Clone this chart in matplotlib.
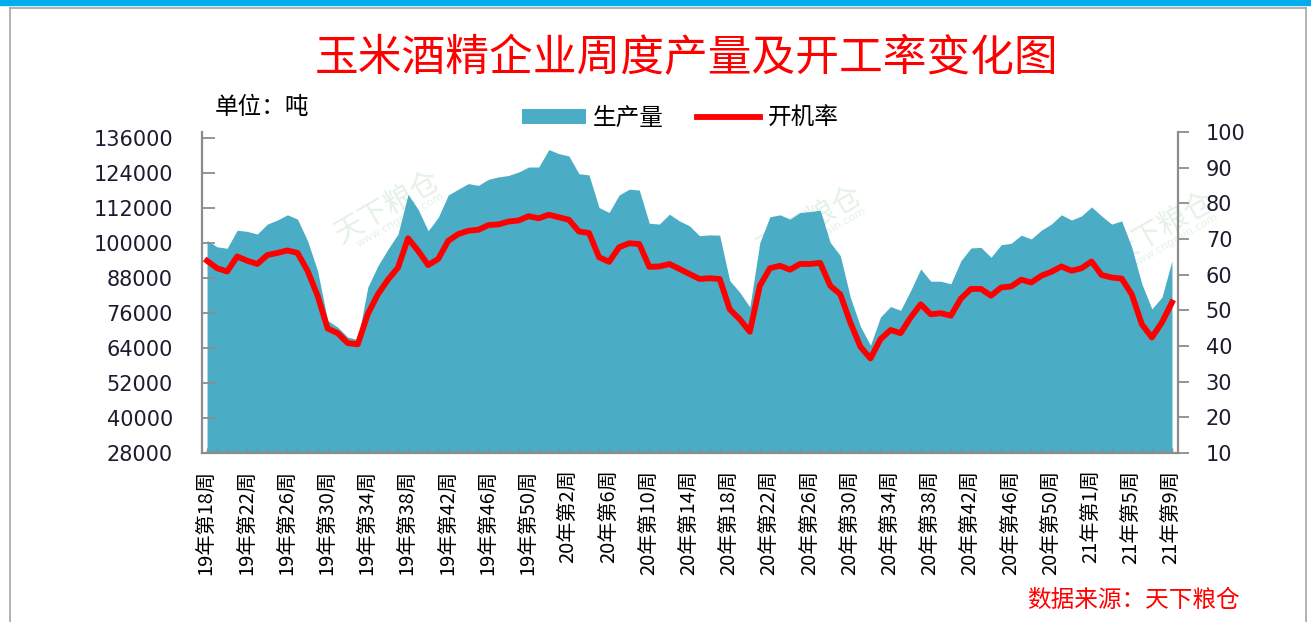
import matplotlib
matplotlib.use('Agg')
import matplotlib.pyplot as plt
from matplotlib.patches import Rectangle, Patch
from matplotlib.lines import Line2D
import numpy as np

plt.rcParams['font.family'] = ['DejaVu Sans']
CJK = ['Noto Sans CJK SC', 'DejaVu Sans']

# categories: 19年第18周 ... 21年第9周
WEEK_LABELS = ([f'19年第{w}周' for w in range(18, 53)]
               + [f'20年第{w}周' for w in range(1, 54)]
               + [f'21年第{w}周' for w in range(1, 10)])

# 生产量 (吨)
PRODUCTION = [101000, 98800, 98300, 104500, 104100, 103200, 106600, 108000, 109800, 108300,
              100900, 90600, 73500, 71200, 67800, 66900,
              85000, 92300, 98000, 103200, 116800, 111700, 104300, 108900, 116600, 118600,
              120500, 119900, 122000, 122800, 123300, 124500, 126200,
              126200, 132200, 130800, 130000, 123900, 123500, 112300, 110600, 116600, 118600,
              118300, 106900, 106600, 110000, 107700, 106000,
              102600, 102900, 102800, 87200, 83200, 78100, 100300, 109100, 109800, 108300,
              110600, 110900, 111400, 100300, 95800, 81500, 71500,
              65000, 74700, 78300, 77000, 83800, 91200, 87000, 87000, 86100, 94000, 98400,
              98600, 95200, 99500, 100000, 102800,
              101500, 104500, 106600, 109800, 108000, 109400, 112500, 109400, 106600, 107700,
              98600, 86100, 77500, 81500, 94000]

# 开机率 (%)
RATE = [63.9, 61.8, 60.9, 65.1, 63.9, 63.0, 65.5, 66.1, 66.8, 66.1,
        61.1, 54.1, 44.9, 43.6, 40.8, 40.5,
        49.0, 54.5, 58.6, 62.0, 70.2, 66.7, 62.7, 64.4, 69.5, 71.4, 72.3, 72.6, 73.9, 74.1,
        74.9, 75.2, 76.4,
        75.8, 76.8, 76.1, 75.4, 72.1, 71.7, 64.9, 63.6, 67.7, 68.8, 68.6, 62.2, 62.3, 63.0,
        61.6, 60.2,
        58.8, 59.0, 58.8, 50.3, 47.5, 44.0, 56.9, 61.8, 62.5, 61.4, 63.0, 63.0, 63.3, 56.9,
        54.5, 46.6, 39.8,
        36.5, 41.9, 44.5, 43.6, 48.0, 51.7, 48.9, 49.2, 48.5, 53.3, 56.0, 56.0, 54.1, 56.4,
        56.7, 58.6,
        57.8, 59.7, 60.8, 62.3, 61.1, 61.8, 63.7, 59.9, 59.2, 58.9, 54.5, 46.1, 42.4, 46.6, 52.2]

LEFT_TICKS = list(range(28000, 136001, 12000))
RIGHT_TICKS = list(range(10, 101, 10))

AREA_COLOR = '#4BACC6'
LINE_COLOR = '#FF0000'
AXIS_GRAY = '#8C8C8C'
TEXT_DARK = '#1C1C30'
WATERMARK = '#E4F2E6'

W, H = 1311, 622
fig = plt.figure(figsize=(W / 100, H / 100), dpi=100)
fig.patch.set_facecolor('white')

# outer frame: blue top bar and thin gray border
fig.patches.append(Rectangle((0, 1 - 5 / H), 1, 5 / H, transform=fig.transFigure,
                             color='#00AEEF', zorder=0))
for xs, ys in [([10 / W, 10 / W], [0, 1 - 8 / H]),
               ([10 / W, 1306 / W], [1 - 8 / H, 1 - 8 / H]),
               ([1306 / W, 1306 / W], [0, 1 - 8 / H])]:
    fig.lines.append(Line2D(xs, ys, transform=fig.transFigure, color='#A6A6A6', lw=1.2))

left, right, top, bottom = 202 / W, 1178 / W, 1 - 132 / H, 1 - 453 / H
ax = fig.add_axes([left, bottom, right - left, top - bottom])
ax2 = ax.twinx()

x = np.arange(len(PRODUCTION))

# watermark (behind the area)
for wx, wy in [(18, 112000), (60, 107000), (95, 105000)]:
    ax.text(wx, wy, '天下粮仓', family=CJK, fontsize=21, color=WATERMARK, rotation=30,
            ha='center', va='center', zorder=0.5)
    ax.text(wx + 1.2, wy - 4000, 'www.cngrain.com', fontsize=8, color=WATERMARK,
            rotation=30, ha='center', va='center', zorder=0.5)

ax.fill_between(x, 28000, PRODUCTION, color=AREA_COLOR, lw=0, zorder=1)
ax2.plot(x, RATE, color=LINE_COLOR, lw=4.2, solid_joinstyle='round', zorder=3)

ax.set_xlim(-0.5, 96.6)
ax.set_ylim(28000, 138230)
ax2.set_ylim(10, 100)

for s in ['top', 'right']:
    ax.spines[s].set_visible(False)
for s in ['left', 'bottom']:
    ax.spines[s].set_color(AXIS_GRAY)
    ax.spines[s].set_linewidth(1.6)
for s in ['top', 'left', 'bottom']:
    ax2.spines[s].set_visible(False)
ax2.spines['right'].set_color(AXIS_GRAY)
ax2.spines['right'].set_linewidth(1.6)

ax.set_yticks(LEFT_TICKS)
ax.set_yticklabels([str(v) for v in LEFT_TICKS], fontsize=15, color=TEXT_DARK)
ax.tick_params(axis='y', direction='in', length=9, width=1.3, color=AXIS_GRAY, pad=21)

ax2.set_yticks(RIGHT_TICKS)
ax2.set_yticklabels([str(v) for v in RIGHT_TICKS], fontsize=15, color=TEXT_DARK)
ax2.tick_params(axis='y', direction='out', length=8, width=1.3, color=AXIS_GRAY, pad=12)

major = x[::4]
ax.set_xticks(major)
ax.set_xticklabels([WEEK_LABELS[i] for i in major], rotation=90, family=CJK,
                   fontsize=14.5, color='black', va='top', ha='center')
ax.set_xticks(x, minor=True)
ax.tick_params(axis='x', which='both', direction='in', length=3.5, width=1,
               color=AXIS_GRAY, pad=12)

# title and annotations
fig.text(687 / W, 1 - 58 / H, '玉米酒精企业周度产量及开工率变化图', family=CJK,
         fontsize=31.5, color='#FF0000', ha='center', va='center')
fig.text(215 / W, 1 - 107 / H, '单位：吨', family=CJK, fontsize=17, color='black',
         ha='left', va='center')
fig.text(1240 / W, 1 - 600 / H, '数据来源：天下粮仓', family=CJK, fontsize=17,
         color='#FF0000', style='italic', ha='right', va='center')

handles = [Patch(facecolor=AREA_COLOR, edgecolor='none', label='生产量'),
           Line2D([], [], color=LINE_COLOR, lw=4.2, label='开机率')]
fig.legend(handles=handles, loc='center', bbox_to_anchor=(680 / W, 1 - 118 / H),
           ncol=2, frameon=False, prop={'family': CJK, 'size': 17},
           handlelength=2.7, handleheight=0.6, handletextpad=0.3, columnspacing=1.4,
           borderpad=0)

fig.savefig('out.png', dpi=100, facecolor='white')
